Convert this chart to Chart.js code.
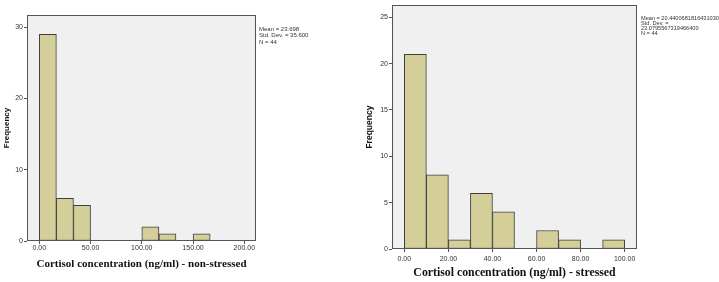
<!DOCTYPE html>
<html>
<head>
<meta charset="utf-8">
<script src="https://cdn.jsdelivr.net/npm/chart.js@4"></script>
<style>
  html, body { margin: 0; padding: 0; background: #fff; }
  body { width: 719px; height: 282px; position: relative; overflow: hidden; }
  .box { position: absolute; top: 0; height: 282px; }
  .stats { position: absolute; font-family: Arial, "Liberation Sans", sans-serif; font-size: 6px; color: #333; white-space: nowrap; }
</style>
</head>
<body>
<div class="box" style="left:0;width:360px;"><canvas id="c1"></canvas></div>
<div class="box" style="left:360px;width:359px;"><canvas id="c2"></canvas></div>
<div class="stats" style="left:259px;top:26px;line-height:6.4px;">Mean = 23.698<br>Std. Dev. = 35.600<br>N = 44</div>
<div class="stats" style="left:641px;top:16px;line-height:5px;font-size:5.6px;">Mean = 20.4400681816431030<br>Std. Dev. =<br>23.0795567319466400<br>N = 44</div>
<script>
// ---- data: non-stressed ----
const binStartNS = [0, 16.67, 33.33, 50, 66.67, 83.33, 100, 116.67, 133.33, 150];
const binWidthNS = 16.67;
const countsNS   = [29, 6, 5, 0, 0, 0, 2, 1, 0, 1];
const xTicksNS   = [0, 50, 100, 150, 200];
const yTicksNS   = [0, 10, 20, 30];

// ---- data: stressed ----
const binStartS = [0, 10, 20, 30, 40, 50, 60, 70, 80, 90];
const binWidthS = 10;
const countsS   = [21, 8, 1, 6, 4, 0, 2, 1, 0, 1];
const xTicksS   = [0, 20, 40, 60, 80, 100];
const yTicksS   = [0, 5, 10, 15, 20, 25];

const BAR_FILL = '#d4cf99';
const BAR_EDGE = '#3f3f3f';
const AXIS_COL = '#555555';
const PLOT_BG  = '#f0f0f0';

const plotFrame = {
  id: 'plotFrame',
  beforeDatasetsDraw(chart) {
    const a = chart.chartArea, ctx = chart.ctx;
    ctx.save();
    ctx.fillStyle = PLOT_BG;
    ctx.fillRect(a.left, a.top, a.right - a.left, a.bottom - a.top);
    ctx.restore();
  },
  afterDatasetsDraw(chart) {
    const a = chart.chartArea, ctx = chart.ctx;
    ctx.save();
    ctx.strokeStyle = AXIS_COL;
    ctx.lineWidth = 1;
    ctx.strokeRect(Math.round(a.left) + 0.5, Math.round(a.top) + 0.5,
                   Math.round(a.right - a.left) - 1, Math.round(a.bottom - a.top) - 1);
    ctx.restore();
  }
};

function makeChart(id, cfg) {
  const data = cfg.starts.map((s, i) => ({ x: s + cfg.width / 2, y: cfg.counts[i] === 0 ? null : cfg.counts[i] }));
  return new Chart(document.getElementById(id), {
    type: 'bar',
    data: { datasets: [{
      data,
      backgroundColor: BAR_FILL,
      borderColor: BAR_EDGE,
      borderWidth: 1,
      borderSkipped: false,
      barPercentage: 1,
      categoryPercentage: 1
    }]},
    options: {
      responsive: true,
      maintainAspectRatio: false,
      animation: false,
      layout: { padding: cfg.pad },
      plugins: { legend: { display: false }, tooltip: { enabled: false } },
      scales: {
        x: {
          type: 'linear',
          offset: false,
          min: cfg.xmin, max: cfg.xmax,
          afterBuildTicks: s => { s.ticks = cfg.xticks.map(v => ({ value: v })); },
          afterFit: s => { s.height = cfg.xh; },
          grid: { offset: false, drawOnChartArea: false, drawTicks: true, tickLength: 3, color: AXIS_COL },
          border: { display: false },
          ticks: {
            padding: cfg.xtpad, color: '#333', maxRotation: 0, autoSkip: false,
            font: { family: 'Arial, "Liberation Sans", sans-serif', size: 7 },
            callback: v => Number(v).toFixed(2)
          },
          title: {
            display: true, text: cfg.xtitle, color: '#111',
            font: { family: '"Liberation Serif", "Times New Roman", serif', size: cfg.xtsize, weight: 'bold' },
            padding: { top: 0, bottom: cfg.xtbot }
          }
        },
        y: {
          type: 'linear',
          min: 0, max: cfg.ymax,
          afterBuildTicks: s => { s.ticks = cfg.yticks.map(v => ({ value: v })); },
          afterFit: s => { s.width = cfg.yw; },
          grid: { drawOnChartArea: false, drawTicks: true, tickLength: 3, color: AXIS_COL },
          border: { display: false },
          ticks: {
            padding: 1, color: '#333',
            font: { family: 'Arial, "Liberation Sans", sans-serif', size: 7 }
          },
          title: {
            display: true, text: 'Frequency', color: '#111',
            font: { family: 'Arial, "Liberation Sans", sans-serif', size: cfg.ytsize, weight: 'bold' },
            padding: { top: cfg.ytpad, bottom: 0 }
          }
        }
      }
    },
    plugins: [plotFrame]
  });
}

makeChart('c1', {
  starts: binStartNS, width: binWidthNS, counts: countsNS,
  xticks: xTicksNS, yticks: yTicksNS,
  xmin: -12, xmax: 211.4, ymax: 31.7,
  pad: { left: 0, top: 15, right: 104, bottom: 0 },
  xh: 41, yw: 27, xtpad: 0, xtsize: 11, xtbot: 11.4, ytsize: 8, ytpad: 2,
  xtitle: 'Cortisol concentration (ng/ml) - non-stressed'
});

makeChart('c2', {
  starts: binStartS, width: binWidthS, counts: countsS,
  xticks: xTicksS, yticks: yTicksS,
  xmin: -5.6, xmax: 105.6, ymax: 26.3,
  pad: { left: 0, top: 5, right: 82, bottom: 0 },
  xh: 33, yw: 32, xtpad: 2.5, xtsize: 11.8, xtbot: 1.8, ytsize: 8.5, ytpad: 5,
  xtitle: 'Cortisol concentration (ng/ml) - stressed'
});
</script>
</body>
</html>
